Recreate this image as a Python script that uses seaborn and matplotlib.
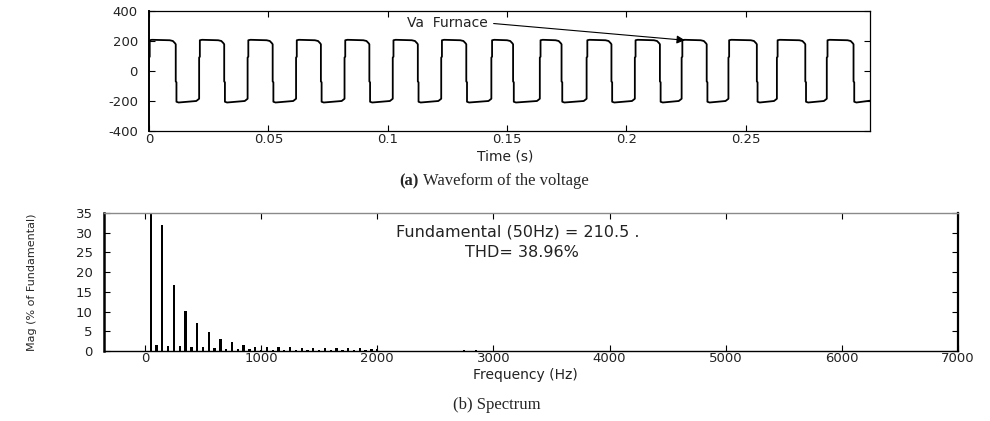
import numpy as np
import pandas as pd
import matplotlib
matplotlib.use("Agg")
import matplotlib.pyplot as plt
import seaborn as sns

# -------------------------
# Datos
# -------------------------
# (a) forma de onda: instantes de los flancos (s)
RISE_T = [0.0, 0.0210, 0.0413, 0.0616, 0.0819, 0.1021, 0.1224, 0.1434,
          0.1637, 0.1833, 0.2035, 0.2231, 0.2427, 0.2630, 0.2839]
FALL_T = [0.0112, 0.0315, 0.0518, 0.0720, 0.0923, 0.1126, 0.1329, 0.1525,
          0.1728, 0.1937, 0.2140, 0.2336, 0.2546, 0.2749, 0.2951]
# forma de cada flanco (desfase respecto al flanco, valor en V)
RISE_DT = [-0.0012, -0.0002, 0.0, 0.0, 0.0003, 0.0003, 0.0012]
RISE_V = [-200, -188, -185, 90, 95, 205, 208]
FALL_DT = [-0.0025, -0.0012, -0.0003, 0.0, 0.0, 0.0003, 0.0003, 0.0012]
FALL_V = [205, 200, 185, 178, -70, -75, -205, -210]
T_START, V_START = 0.0, 0.0
T_END, V_END = 0.302, -198

# (b) espectro: frecuencia (Hz) y magnitud (% de la fundamental)
FREQ_HZ = [50, 100, 150, 200, 250, 300, 350, 400, 450, 500,
           550, 600, 650, 700, 750, 800, 850, 900, 950, 1000,
           1050, 1100, 1150, 1200, 1250, 1300, 1350, 1400, 1450, 1500,
           1550, 1600, 1650, 1700, 1750, 1800, 1850, 1900, 1950, 2000,
           2750, 2850]
MAG_PCT = [100, 1.4, 32, 1.3, 16.8, 1.2, 10.2, 1.1, 7.0, 1.0,
           4.7, 0.8, 3.1, 0.6, 2.3, 0.5, 1.4, 0.4, 1.1, 0.3,
           0.95, 0.2, 0.9, 0.2, 0.9, 0.2, 0.85, 0.2, 0.85, 0.2,
           0.8, 0.2, 0.8, 0.2, 0.75, 0.2, 0.7, 0.2, 0.6, 0.4,
           0.3, 0.3]

TXT_FUND = "Fundamental (50Hz) = 210.5 ."
TXT_THD = "THD= 38.96%"

# -------------------------
# Construccion de la curva
# -------------------------
tt, vv = [T_START], [V_START]
edges = sorted([(t, "r") for t in RISE_T] + [(t, "f") for t in FALL_T])
for i, (t0, kind) in enumerate(edges):
    dts, vs = (RISE_DT, RISE_V) if kind == "r" else (FALL_DT, FALL_V)
    for dt, v in zip(dts, vs):
        if t0 + dt < T_START or (i == 0 and dt < 0) or (i == 0 and v < V_START):
            continue
        tt.append(t0 + dt)
        vv.append(v)
tt.append(T_END)
vv.append(V_END)
df_wave = pd.DataFrame({"t": tt, "v": vv})
df_spec = pd.DataFrame({"f": FREQ_HZ, "m": MAG_PCT})

# -------------------------
# Figura
# -------------------------
sns.set_style("ticks")
plt.rcParams["font.family"] = ["DejaVu Sans"]
plt.rcParams["axes.unicode_minus"] = False
plt.rcParams["xtick.direction"] = "in"
plt.rcParams["ytick.direction"] = "in"

W, H = 990, 421
fig = plt.figure(figsize=(W / 100, H / 100), dpi=100)

def fbox(x0, y0, x1, y1):
    return [x0 / W, 1 - y1 / H, (x1 - x0) / W, (y1 - y0) / H]

tick_kw = dict(labelsize=9.5, labelcolor="#222222", length=4, width=0.8,
               top=True, right=True, color="black")

# (a) forma de onda
ax1 = fig.add_axes(fbox(149, 11, 870, 131))
sns.lineplot(data=df_wave, x="t", y="v", ax=ax1, color="black", linewidth=1.3,
             sort=False, estimator=None)
ax1.set_xlim(0, 0.302)
ax1.set_ylim(-400, 400)
ax1.set_xticks([0, 0.05, 0.1, 0.15, 0.2, 0.25])
ax1.set_xticklabels(["0", "0.05", "0.1", "0.15", "0.2", "0.25"])
ax1.set_yticks([-400, -200, 0, 200, 400])
ax1.set_xlabel("")
ax1.set_ylabel("")
ax1.tick_params(axis="x", pad=1.5, **tick_kw)
ax1.tick_params(axis="y", pad=8, **tick_kw)
for s in ax1.spines.values():
    s.set_visible(True)
    s.set_color("black")
    s.set_linewidth(0.9)
ax1.spines["left"].set_linewidth(1.4)
ax1.annotate("Va  Furnace", xy=(0.2245, 205), xytext=(0.108, 320),
             fontsize=10, color="#222222", va="center", ha="left",
             arrowprops=dict(arrowstyle="-|>", color="black", lw=0.8,
                             relpos=(1.0, 0.5), shrinkA=2, shrinkB=0,
                             mutation_scale=12))
fig.text(505 / W, 1 - 156 / H, "Time (s)", fontsize=10, color="#222222",
         ha="center", va="center")

# titulo (a)
fig.text(419 / W, 1 - 181 / H, "(a)", family="Liberation Serif", weight="bold",
         fontsize=12, ha="right", va="center")
fig.text(423 / W, 1 - 181 / H, "Waveform of the voltage", family="Liberation Serif",
         fontsize=12, ha="left", va="center")

# (b) espectro
ax2 = fig.add_axes(fbox(104, 213, 958, 351))
sns.barplot(data=df_spec, x="f", y="m", ax=ax2, native_scale=True, orient="x",
            color="black", width=0.4, linewidth=0, saturation=1)
ax2.set_xlim(-352, 7000)
ax2.set_ylim(0, 35)
ax2.set_xticks(range(0, 7001, 1000))
ax2.set_xticklabels([str(v) for v in range(0, 7001, 1000)])
ax2.set_yticks(range(0, 36, 5))
ax2.set_xlabel("")
ax2.set_ylabel("")
ax2.tick_params(axis="x", pad=1, **tick_kw)
ax2.tick_params(axis="y", pad=8, **tick_kw)
for s in ax2.spines.values():
    s.set_visible(True)
    s.set_color("black")
    s.set_linewidth(1.0)
ax2.spines["top"].set_color("#8a8a8a")
ax2.spines["left"].set_linewidth(1.8)
ax2.spines["right"].set_linewidth(1.6)
ax2.text(3206, 30.2, TXT_FUND, fontsize=11.5, color="#222222", ha="center", va="center")
ax2.text(3249, 25.1, TXT_THD, fontsize=11.5, color="#222222", ha="center", va="center")
fig.text(525 / W, 1 - 375 / H, "Frequency (Hz)", fontsize=10, color="#222222",
         ha="center", va="center")
fig.text(32 / W, 1 - 282 / H, "Mag (% of Fundamental)", fontsize=8,
         rotation=90, ha="center", va="center")

fig.text(497 / W, 1 - 405 / H, "(b) Spectrum", family="Liberation Serif",
         fontsize=12, ha="center", va="center")

fig.savefig("out.png", dpi=100)
